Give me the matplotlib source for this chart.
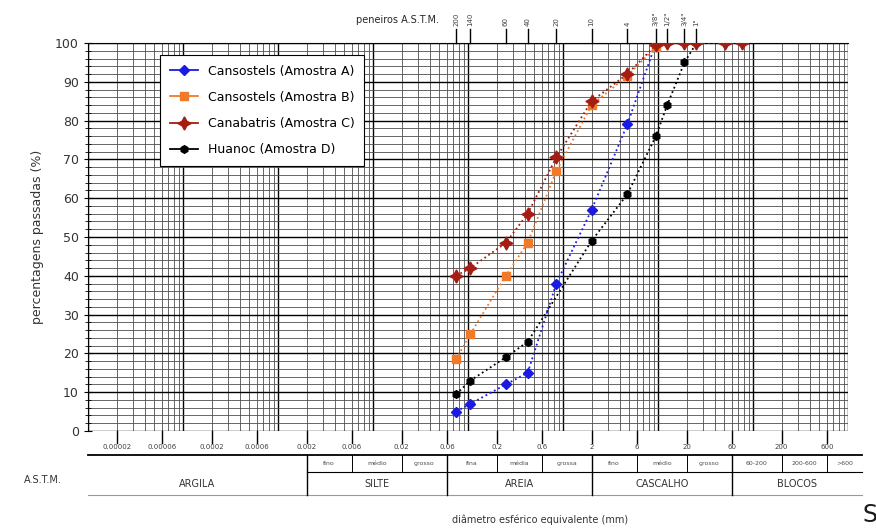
import matplotlib
matplotlib.use("Agg")
import matplotlib.pyplot as plt
from matplotlib.ticker import LogLocator, MultipleLocator, NullFormatter
from matplotlib.transforms import blended_transform_factory
import numpy as np

# peneiros (mm) e percentagens passadas
x_a = [0.075, 0.106, 0.25, 0.425, 0.85, 2.0, 4.75, 9.5]
pct_a = [5, 7, 12, 15, 38, 57, 79, 100]

x_b = [0.075, 0.106, 0.25, 0.425, 0.85, 2.0, 4.75, 9.5]
pct_b = [18.5, 25, 40, 48.5, 67, 84, 91.5, 99]

x_c = [0.075, 0.106, 0.25, 0.425, 0.85, 2.0, 4.75, 9.5, 12.5, 19.0, 25.4, 50.8, 76.2]
pct_c = [40, 42, 48.5, 56, 70.5, 85, 92, 99.5, 100, 100, 100, 100, 100]

x_d = [0.075, 0.106, 0.25, 0.425, 2.0, 4.75, 9.5, 12.5, 19.0, 25.4]
pct_d = [9.5, 13, 19, 23, 49, 61, 76, 84, 95, 100]

labels = ["Cansostels (Amostra A)", "Cansostels (Amostra B)",
          "Canabatris (Amostra C)", "Huanoc (Amostra D)"]

sieve_mm = [0.075, 0.106, 0.25, 0.425, 0.85, 2.0, 4.75, 9.5, 12.5, 19.0, 25.4]
sieve_names = ["200", "140", "60", "40", "20", "10", "4", '3/8"', '1/2"', '3/4"', '1"']

bottom_ticks = ["0.00002", "0.00006", "0.0002", "0.0006", "0.002", "0.006", "0.02", "0.06",
                "0.2", "0.6", "2", "6", "20", "60", "200", "600"]

classes = ["ARGILA", "SILTE", "AREIA", "CASCALHO", "BLOCOS"]
class_edges = [1e-5, 0.002, 0.06, 2, 60, 1400]
sub_edges = [0.002, 0.006, 0.02, 0.06, 0.2, 0.6, 2, 6, 20, 60, 200, 600, 1400]
sub_names = ["fino", "médio", "grosso", "fina", "média", "grossa",
             "fino", "médio", "grosso", "60-200", "200-600", ">600"]

fig = plt.figure(figsize=(8.76, 5.29), dpi=100)
ax = fig.add_axes([88 / 876, 1 - 431 / 529, 760 / 876, 388 / 529])

ax.set_xscale("log")
ax.set_xlim(1e-5, 1000)
ax.set_ylim(0, 100)

ax.xaxis.set_major_locator(LogLocator(base=10, numticks=20))
ax.xaxis.set_minor_locator(LogLocator(base=10, subs=np.arange(2, 10), numticks=200))
ax.xaxis.set_minor_formatter(NullFormatter())
ax.yaxis.set_major_locator(MultipleLocator(10))
ax.yaxis.set_minor_locator(MultipleLocator(2))

ax.grid(which="major", color="black", lw=1.0)
ax.grid(which="minor", color="0.3", lw=0.6)
ax.set_axisbelow(True)

ax.tick_params(axis="x", which="both", length=0, labelbottom=False)
ax.tick_params(axis="y", which="major", length=6, labelsize=9, labelcolor="0.2", direction="inout")
ax.tick_params(axis="y", which="minor", length=4, direction="inout")
for s in ax.spines.values():
    s.set_linewidth(0.8)
ax.spines["bottom"].set_visible(False)
ax.spines["right"].set_visible(False)

ax.set_ylabel("percentagens passadas (%)", fontsize=9, color="0.2", labelpad=8)

ax.plot(x_a, pct_a, ls=":", lw=1.3, color="#1a1ae6", marker="D", ms=5.5, label=labels[0], zorder=3)
ax.plot(x_b, pct_b, ls=":", lw=1.3, color="#f07a2a", marker="s", ms=5.5, label=labels[1], zorder=3)
ax.plot(x_c, pct_c, ls=":", lw=1.3, color="#a51d12", marker=(4, 1, 0), ms=9.5, label=labels[2], zorder=4)
ax.plot(x_d, pct_d, ls=":", lw=1.3, color="black", marker="h", ms=5.5, label=labels[3], zorder=3)

leg = ax.legend(loc="upper left", bbox_to_anchor=(0.095, 0.97), borderaxespad=0,
                fontsize=9, fancybox=False, edgecolor="black", framealpha=1,
                labelspacing=1.05, handlelength=2.2, borderpad=0.8)
leg.get_frame().set_linewidth(0.8)
for h in leg.get_lines():
    h.set_linestyle("-")

trans = blended_transform_factory(ax.transData, ax.transAxes)

# peneiros ASTM no topo
for d, name in zip(sieve_mm, sieve_names):
    ax.plot([d, d], [1.0, 1.035], transform=trans, color="black", lw=1.0, clip_on=False)
    ax.text(d, 1.045, name, transform=trans, rotation=90, fontsize=5,
            ha="center", va="bottom", color="0.25")
ax.text(0.05, 1.06, "peneiros A.S.T.M.", transform=trans, fontsize=7,
        ha="right", va="center", color="0.15")

# escala inferior
for lab in bottom_ticks:
    v = float(lab)
    ax.plot([v, v], [0, -0.03], transform=trans, color="black", lw=1.0, clip_on=False)
    ax.text(v, -0.042, lab, transform=trans, fontsize=5, ha="center",
            va="center", color="0.25")

y1, y2, y3 = -0.062, -0.106, -0.165
ax.plot([1e-5, 1400], [y1, y1], transform=trans, color="black", lw=1.3, clip_on=False)
ax.plot([0.002, 1400], [y2, y2], transform=trans, color="black", lw=0.8, clip_on=False)
ax.plot([1e-5, 1400], [y3, y3], transform=trans, color="0.6", lw=0.8, clip_on=False)

for e in sub_edges[:-1]:
    ax.plot([e, e], [y1, y2], transform=trans, color="black", lw=0.7, clip_on=False)
for a, b, n in zip(sub_edges[:-1], sub_edges[1:], sub_names):
    ax.text(np.sqrt(a * b), (y1 + y2) / 2, n, transform=trans, fontsize=4.5,
            ha="center", va="center", color="0.3")

for e in class_edges[1:-1]:
    ax.plot([e, e], [y1, y3], transform=trans, color="black", lw=1.0, clip_on=False)
for a, b, n in zip(class_edges[:-1], class_edges[1:], classes):
    ax.text(np.sqrt(a * b), (y2 + y3) / 2, n, transform=trans, fontsize=7,
            ha="center", va="center", color="0.2")

fig.text(43 / 876, 1 - 480 / 529, "A.S.T.M.", fontsize=7, ha="center", va="center", color="0.2")
fig.text(540 / 876, 1 - 520 / 529, "diâmetro esférico equivalente (mm)", fontsize=7,
         ha="center", va="center", color="0.2")
fig.text(862 / 876, 1 - 515 / 529, "S", fontsize=17, ha="left", va="center", color="0.1")

fig.savefig("out.png", dpi=100)
